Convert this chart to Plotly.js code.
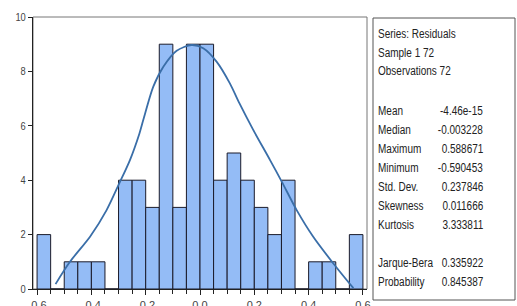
<!DOCTYPE html>
<html>
<head>
<meta charset="utf-8">
<script src="https://cdn.plot.ly/plotly-3.0.1.min.js"></script>
<style>html,body{margin:0;padding:0;background:#fff;} #chart{width:517px;height:306px;}</style>
</head>
<body>
<div id="chart"></div>
<script>
// ---- data ----
const binLeft = [-0.60,-0.55,-0.50,-0.45,-0.40,-0.35,-0.30,-0.25,-0.20,-0.15,-0.10,-0.05,0.00,0.05,0.10,0.15,0.20,0.25,0.30,0.35,0.40,0.45,0.50,0.55];
const counts  = [2,0,1,1,1,0,4,4,3,9,3,9,9,4,5,4,3,2,4,0,1,1,0,2];
const curveX = [-0.532,-0.479,-0.405,-0.344,-0.297,-0.258,-0.223,-0.209,-0.172,-0.135,-0.086,-0.031,0.012,0.061,0.110,0.145,0.196,0.258,0.301,0.356,0.417,0.491,0.565];
const curveY = [0.18,1.0,1.92,2.9,3.89,4.74,5.72,6.21,7.44,8.17,8.76,8.97,8.85,8.36,7.56,6.83,5.85,4.74,3.95,2.9,1.92,0.94,0.03];
const xTickVals = [-0.6,-0.4,-0.2,0.0,0.2,0.4,0.6];
const xTickText = ["-0.6","-0.4","-0.2","0.0","0.2","0.4","0.6"];
const yTickVals = [0,2,4,6,8,10];
const headerLines = ["Series: Residuals","Sample 1 72","Observations 72"];
const statLabels = ["Mean","Median","Maximum","Minimum","Std. Dev.","Skewness","Kurtosis","Jarque-Bera","Probability"];
const statValues = ["-4.46e-15","-0.003228","0.588671","-0.590453","0.237846","0.011666","3.333811","0.335922","0.845387"];

// ---- layout geometry (pixels) ----
const W = 517, H = 306;
const L = 33, R = 367, T = 17, B = 289;
const px = x => (x - L) / (R - L);
const py = y => (B - y) / (B - T);
const FONT = "Liberation Sans, Arial, sans-serif";
const TXT = {family:FONT, size:13.5, color:'#222'};
const SQUEEZE = 0.74;

const headerY = [33,52,71];
const statY = [110,129,148,167,186,205,224,262,281];
const labelX = 376, valueX = 485;

const annotations = [];
const anchors = [];
headerLines.forEach((t,i)=>{annotations.push({xref:'paper',yref:'paper',x:px(labelX),y:py(headerY[i]),xanchor:'left',yanchor:'middle',text:t,showarrow:false,font:TXT}); anchors.push('left');});
statLabels.forEach((t,i)=>{
  annotations.push({xref:'paper',yref:'paper',x:px(labelX),y:py(statY[i]),xanchor:'left',yanchor:'middle',text:t,showarrow:false,font:TXT}); anchors.push('left');
  annotations.push({xref:'paper',yref:'paper',x:px(valueX),y:py(statY[i]),xanchor:'right',yanchor:'middle',text:statValues[i],showarrow:false,font:TXT}); anchors.push('right');
});

const traces = [
  {type:'bar', x:binLeft, y:counts, width:0.05, offset:0,
   marker:{color:'#94bcf6', line:{color:'#1b1b2a', width:1}}, hoverinfo:'skip'},
  {type:'scatter', mode:'lines', x:curveX, y:curveY,
   line:{color:'#3a6ea8', width:1.8, shape:'spline', smoothing:0.8}, hoverinfo:'skip'}
];

const layout = {
  width:W, height:H,
  margin:{l:L, r:W-R, t:T, b:H-B, pad:0},
  paper_bgcolor:'#fff', plot_bgcolor:'#fff',
  showlegend:false, bargap:0,
  xaxis:{range:[-0.615,0.615], tickvals:xTickVals, ticktext:xTickText, ticks:'outside', ticklen:5, tickcolor:'#222',
         showgrid:false, zeroline:false, showline:true, linecolor:'#222', linewidth:1,
         tickfont:{family:FONT,size:11,color:'#444'}, ticklabelstandoff:1,
         minor:{dtick:0.05, tick0:0, ticks:'outside', ticklen:4, tickcolor:'#222', showgrid:false}},
  yaxis:{range:[0,10], tickvals:yTickVals, ticks:'outside', ticklen:4, tickcolor:'#222',
         showgrid:false, zeroline:false, showline:true, linecolor:'#222', linewidth:1,
         tickfont:{family:FONT,size:11,color:'#444'}},
  shapes:[
    {type:'rect', xref:'paper', yref:'paper', x0:0, x1:1, y0:0, y1:1, line:{color:'#777', width:1}, layer:'below'},
    {type:'rect', xref:'paper', yref:'paper', x0:px(373), x1:px(515), y0:py(300), y1:py(18), line:{color:'#555', width:1}}
  ],
  annotations:annotations
};

function squeeze(el, s, rightAnchor){
  const bb = el.getBBox();
  const ax = rightAnchor ? bb.x + bb.width : bb.x;
  const t0 = el.getAttribute('transform') || '';
  el.setAttribute('transform', `${t0} translate(${ax},0) scale(${s},1) translate(${-ax},0)`);
}

Plotly.newPlot('chart', traces, layout, {staticPlot:true, displayModeBar:false}).then(gd=>{
  gd.querySelectorAll('g.annotation').forEach(g=>{
    const idx = +g.getAttribute('data-index');
    const el = g.querySelector('text.annotation-text');
    if(el) squeeze(el, SQUEEZE, anchors[idx]==='right');
  });
  gd.querySelectorAll('.ytick text').forEach(el=>squeeze(el, 0.85, true));
});
</script>
</body>
</html>
